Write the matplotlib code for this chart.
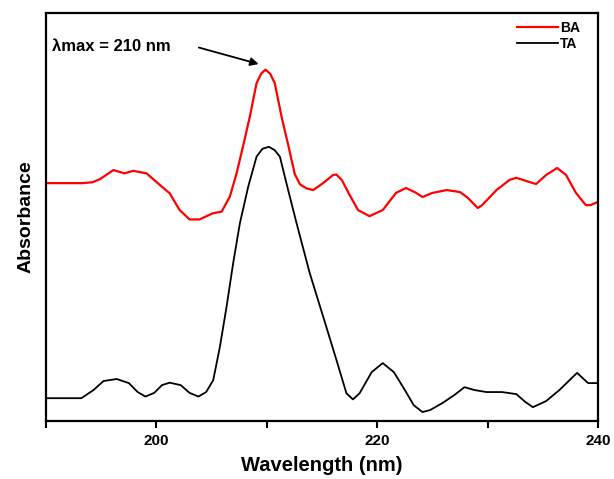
import matplotlib
matplotlib.use("Agg")
import matplotlib.pyplot as plt

plt.rcParams['font.family'] = ['Liberation Sans', 'DejaVu Sans']

# BA spectrum (wavelength nm, absorbance a.u.)
ba_wl = [190, 193.3, 194.2, 194.9, 196.1, 197.1, 197.9, 199.1, 200.5, 201.2,
         202.1, 203.0, 203.9, 205.1, 205.9, 206.65, 207.26, 207.86, 208.46, 209.07,
         209.5, 209.88, 210.3, 210.72, 211.33, 211.93, 212.53, 213.0, 213.6, 214.2,
         215.1, 216.0, 216.3, 216.8, 217.5, 218.26, 219.3, 220.5, 221.7, 222.6,
         223.4, 224.1, 225.0, 226.3, 227.5, 228.2, 229.1, 229.5, 230.8, 232.0,
         232.6, 234.1, 234.4, 235.3, 236.3, 237.1, 238.0, 238.9, 239.3, 240]
ba_abs = [0.583, 0.583, 0.585, 0.593, 0.615, 0.607, 0.613, 0.607, 0.574, 0.558,
          0.517, 0.494, 0.494, 0.509, 0.513, 0.550, 0.607, 0.675, 0.746, 0.828,
          0.852, 0.861, 0.851, 0.828, 0.746, 0.677, 0.605, 0.580, 0.570, 0.566,
          0.583, 0.603, 0.604, 0.590, 0.554, 0.517, 0.502, 0.517, 0.559, 0.571,
          0.561, 0.549, 0.559, 0.566, 0.561, 0.547, 0.522, 0.529, 0.566, 0.591,
          0.596, 0.583, 0.581, 0.603, 0.620, 0.603, 0.559, 0.529, 0.529, 0.537]

# TA spectrum
ta_wl = [190, 193.2, 194.3, 195.2, 196.4, 197.5, 198.3, 199.0, 199.8, 200.5,
         201.2, 202.2, 203.0, 203.8, 204.5, 205.14, 205.75, 206.35, 206.95, 207.56,
         208.31, 209.07, 209.6, 210.18, 210.7, 211.18, 211.93, 212.69, 213.89, 215.1,
         216.3, 217.21, 217.8, 218.4, 219.5, 220.5, 221.5, 222.5, 223.3, 224.1,
         224.8, 225.9, 227.0, 227.9, 228.8, 229.9, 231.3, 232.6, 233.4, 234.1,
         235.3, 236.5, 238.1, 239.1, 240]
ta_abs = [0.056, 0.056, 0.076, 0.098, 0.103, 0.093, 0.071, 0.060, 0.069, 0.088,
          0.094, 0.088, 0.069, 0.060, 0.071, 0.100, 0.182, 0.280, 0.387, 0.485,
          0.574, 0.648, 0.667, 0.672, 0.664, 0.648, 0.566, 0.485, 0.362, 0.256,
          0.150, 0.068, 0.053, 0.068, 0.120, 0.142, 0.120, 0.076, 0.039, 0.022,
          0.027, 0.044, 0.064, 0.083, 0.076, 0.071, 0.071, 0.066, 0.047, 0.034,
          0.049, 0.076, 0.118, 0.093, 0.093]

xtick_vals = [190, 200, 210, 220, 230, 240]
xtick_text = ['', '200', '', '220', '', '240']

fig = plt.figure(figsize=(6.14, 4.79), dpi=100)
ax = fig.add_axes([0.075, 0.121, 0.899, 0.852])

ax.plot(ba_wl, ba_abs, color='#ff0000', lw=1.6, label='BA', solid_joinstyle='round')
ax.plot(ta_wl, ta_abs, color='black', lw=1.3, label='TA', solid_joinstyle='round')

ax.set_xlim(190, 240)
ax.set_ylim(0, 1.0)
ax.set_xticks(xtick_vals)
ax.set_xticklabels(xtick_text, fontsize=11, fontweight='bold')
ax.set_yticks([])
ax.tick_params(axis='x', direction='out', length=5, width=1.5, pad=4)
for s in ax.spines.values():
    s.set_linewidth(1.6)

ax.set_xlabel('Wavelength (nm)', fontsize=14.5, fontweight='bold', labelpad=6)
ax.set_ylabel('Absorbance', fontsize=14, fontweight='bold', labelpad=8)

ax.text(190.55, 0.917, 'λmax = 210 nm', fontsize=12, fontweight='bold',
        ha='left', va='center')
ax.annotate('', xy=(209.5, 0.873), xytext=(203.6, 0.917),
            arrowprops=dict(arrowstyle='-|>', color='black', lw=1.3,
                            mutation_scale=12))

leg = ax.legend(loc='upper right', bbox_to_anchor=(0.982, 1.0), frameon=False,
                fontsize=10, handlelength=3.0, handletextpad=0.1,
                borderaxespad=0.2, labelspacing=0.1)
for t in leg.get_texts():
    t.set_fontweight('bold')

fig.savefig('out.png', dpi=100)
